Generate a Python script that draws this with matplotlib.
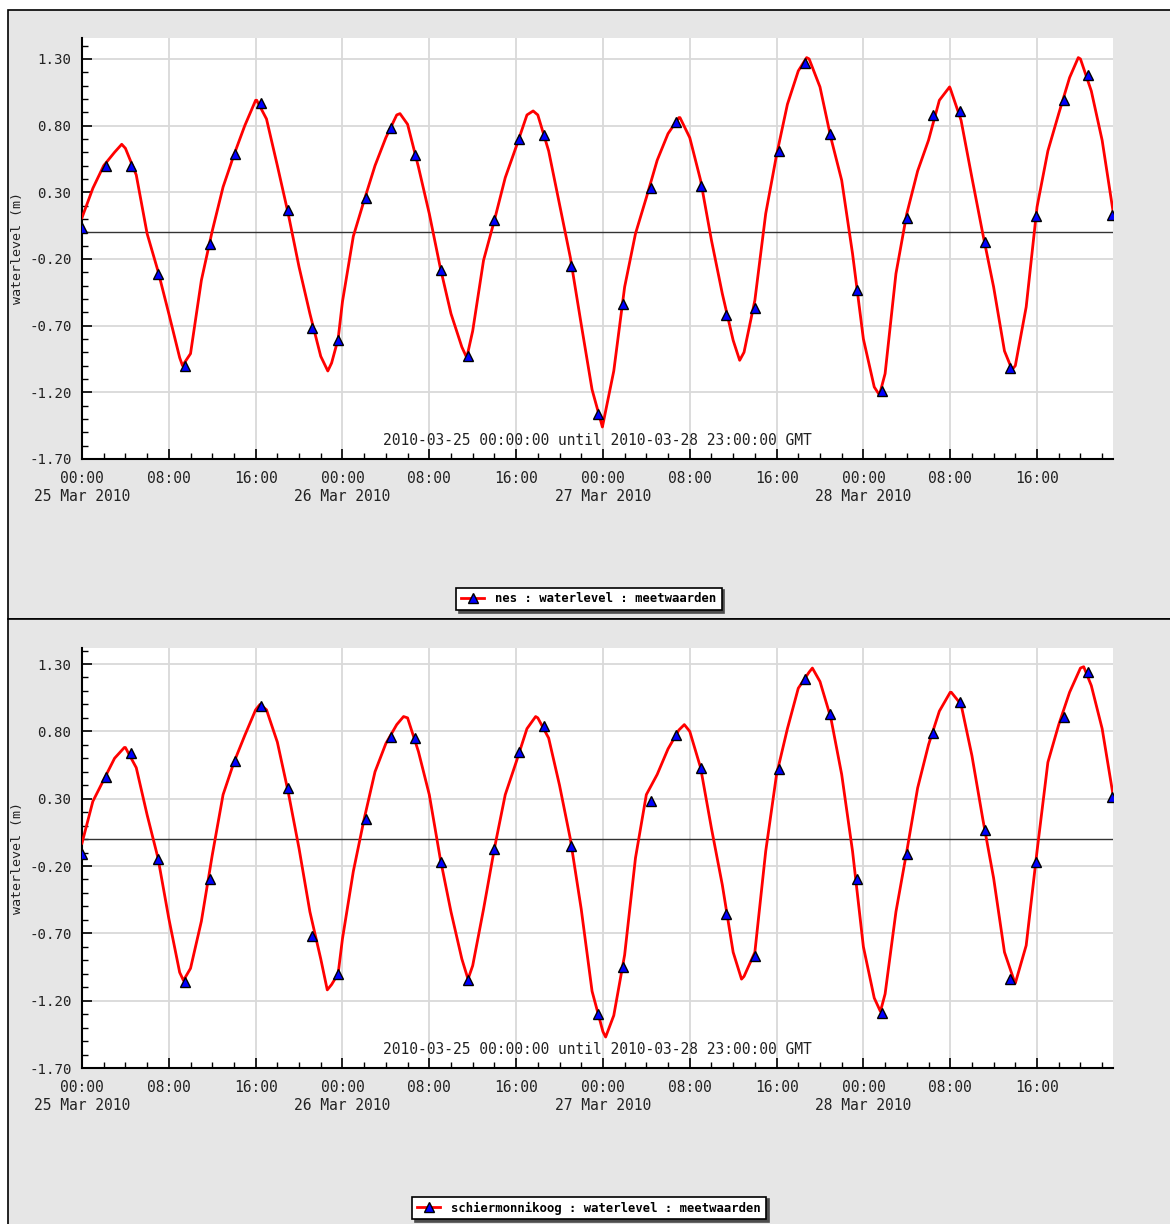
import pandas as pd
import numpy as np
import matplotlib
matplotlib.use('Agg')
import matplotlib.pyplot as plt
import matplotlib.dates as mdates
from matplotlib.patches import Rectangle
from matplotlib.lines import Line2D
from matplotlib.ticker import FixedLocator, MultipleLocator, FormatStrFormatter, FuncFormatter

plt.rcParams['axes.unicode_minus'] = False
MONO = 'DejaVu Sans Mono'

start = pd.Timestamp('2010-03-25 00:00')
end = pd.Timestamp('2010-03-28 23:00')
subtitle = '2010-03-25 00:00:00 until 2010-03-28 23:00:00 GMT'

# uurwaarden van de rode lijn (uur 0 .. 95)
hours = list(range(96))
nes_hourly = [0.11, 0.33, 0.50, 0.60, 0.63, 0.43, -0.01, -0.29, -0.61, -0.94,
              -0.91, -0.36, 0.01, 0.34, 0.58, 0.80, 0.99, 0.85, 0.50, 0.14,
              -0.26, -0.61, -0.93, -0.98, -0.52, -0.03, 0.24, 0.50, 0.71, 0.88,
              0.81, 0.49, 0.14, -0.26, -0.61, -0.86, -0.74, -0.21, 0.09, 0.41,
              0.64, 0.88, 0.88, 0.61, 0.21, -0.19, -0.69, -1.18, -1.44, -1.04,
              -0.41, -0.01, 0.26, 0.54, 0.74, 0.86, 0.71, 0.39, -0.06, -0.46,
              -0.81, -0.90, -0.51, 0.14, 0.58, 0.96, 1.21, 1.30, 1.09, 0.71,
              0.39, -0.16, -0.80, -1.16, -1.06, -0.31, 0.14, 0.46, 0.69, 0.99,
              1.08, 0.84, 0.41, -0.01, -0.41, -0.89, -1.00, -0.56, 0.19, 0.61,
              0.89, 1.16, 1.30, 1.06, 0.69, 0.16]
nes_extra_h = [3.66, 9.26, 16.1, 22.65, 23.6, 29.3, 35.45, 41.57, 47.95, 55.1,
               60.6, 66.77, 73.48, 79.94, 85.7, 91.8]
nes_extra_v = [0.66, -1.00, 0.99, -1.04, -0.80, 0.89, -0.94, 0.91, -1.46, 0.86,
               -0.96, 1.31, -1.22, 1.09, -1.03, 1.31]

# meetwaarden (driehoekjes): tijdstip in uren na 25 Mar 00:00
meas_hours = [0.0, 2.2, 4.52, 7.0, 9.45, 11.75, 14.1, 16.5, 18.95, 21.2,
              23.6, 26.15, 28.46, 30.7, 33.05, 35.6, 38.0, 40.3, 42.6, 45.1,
              47.5, 49.85, 52.46, 54.7, 57.0, 59.35, 62.0, 64.2, 66.6, 68.9,
              71.45, 73.7, 76.0, 78.4, 80.86, 83.2, 85.5, 87.9, 90.46, 92.7, 94.9]
nes_meas = [0.03, 0.50, 0.50, -0.31, -1.00, -0.09, 0.59, 0.97, 0.17, -0.72,
            -0.81, 0.26, 0.78, 0.58, -0.28, -0.93, 0.09, 0.70, 0.73, -0.25,
            -1.36, -0.54, 0.33, 0.83, 0.35, -0.62, -0.57, 0.61, 1.27, 0.74,
            -0.43, -1.19, 0.11, 0.88, 0.91, -0.07, -1.02, 0.12, 0.99, 1.18, 0.13]

sch_hourly = [-0.03, 0.28, 0.44, 0.60, 0.68, 0.53, 0.18, -0.14, -0.59, -0.99,
              -0.96, -0.61, -0.12, 0.33, 0.57, 0.77, 0.96, 0.96, 0.72, 0.35,
              -0.07, -0.54, -0.89, -1.08, -0.74, -0.24, 0.15, 0.50, 0.71, 0.85,
              0.90, 0.65, 0.33, -0.14, -0.54, -0.89, -0.94, -0.52, -0.07, 0.33,
              0.57, 0.82, 0.90, 0.75, 0.40, 0.00, -0.52, -1.13, -1.43, -1.31,
              -0.86, -0.14, 0.33, 0.48, 0.67, 0.81, 0.80, 0.53, 0.08, -0.34,
              -0.84, -1.02, -0.84, -0.09, 0.48, 0.82, 1.12, 1.24, 1.17, 0.90,
              0.48, -0.09, -0.80, -1.18, -1.15, -0.54, -0.09, 0.38, 0.70, 0.95,
              1.09, 1.00, 0.62, 0.15, -0.29, -0.84, -1.07, -0.79, -0.09, 0.57,
              0.85, 1.09, 1.27, 1.14, 0.82, 0.33]
sch_extra_h = [3.9, 9.35, 16.4, 22.6, 23.6, 29.63, 35.57, 41.8, 48.25, 55.5,
               60.77, 67.3, 73.57, 80.1, 85.97, 92.3]
sch_extra_v = [0.68, -1.05, 1.00, -1.12, -1.00, 0.91, -1.04, 0.91, -1.47, 0.85,
               -1.04, 1.27, -1.28, 1.09, -1.07, 1.28]
sch_meas = [-0.11, 0.46, 0.64, -0.15, -1.06, -0.30, 0.58, 0.99, 0.38, -0.72,
            -1.00, 0.15, 0.76, 0.75, -0.17, -1.05, -0.07, 0.65, 0.84, -0.05,
            -1.30, -0.95, 0.28, 0.77, 0.53, -0.56, -0.87, 0.52, 1.19, 0.93,
            -0.30, -1.29, -0.11, 0.79, 1.02, 0.07, -1.04, -0.17, 0.91, 1.24, 0.31]

yticks = [-1.70, -1.20, -0.70, -0.20, 0.30, 0.80, 1.30]
meas_times = start + pd.to_timedelta(meas_hours, unit='h')


def line_series(hourly, extra_h, extra_v):
    s = pd.concat([pd.Series(hourly, index=hours, dtype=float),
                   pd.Series(extra_v, index=extra_h, dtype=float)]).sort_index()
    s.index = start + pd.to_timedelta(s.index, unit='h')
    return s


def fmt_time(x, pos):
    d = mdates.num2date(x)
    if d.hour == 0:
        return d.strftime('%H:%M') + '\n' + d.strftime('%d %b %Y')
    return d.strftime('%H:%M')


W, H = 1170, 1224
fig = plt.figure(figsize=(W / 100, H / 100), dpi=100, facecolor='white')

# grijze panelen met zwarte rand
for y0, y1 in [(10, 619), (619, 1230)]:
    fig.add_artist(Rectangle((8 / W, 1 - y1 / H), 1.0, (y1 - y0) / H,
                             transform=fig.transFigure, facecolor='#e6e6e6',
                             edgecolor='black', lw=1.2, zorder=-5))

panels = [
    (nes_hourly, nes_extra_h, nes_extra_v, nes_meas, 'nes : waterlevel : meetwaarden',
     [82 / W, 1 - 459 / H, 1031 / W, 421 / H], 1.457, 599),
    (sch_hourly, sch_extra_h, sch_extra_v, sch_meas, 'schiermonnikoog : waterlevel : meetwaarden',
     [82 / W, 1 - 1068 / H, 1031 / W, 420 / H], 1.419, 1208),
]

for hourly, extra_h, extra_v, meas, name, rect, ytop, leg_y in panels:
    ax = fig.add_axes(rect)
    ax.set_facecolor('white')
    s = line_series(hourly, extra_h, extra_v)
    ax.axhline(0, color='#333333', lw=1.0, zorder=2)
    ax.plot(s.index, s.values, color='red', lw=2.0, zorder=3)
    ax.plot(meas_times, meas, ls='none', marker='^', ms=7, mfc='blue',
            mec='black', mew=1.0, zorder=4)

    ax.set_xlim(start, end)
    ax.set_ylim(-1.70, ytop)
    ax.yaxis.set_major_locator(FixedLocator(yticks))
    ax.yaxis.set_minor_locator(MultipleLocator(0.1))
    ax.yaxis.set_major_formatter(FormatStrFormatter('%.2f'))
    ax.xaxis.set_major_locator(mdates.HourLocator(byhour=[0, 8, 16]))
    ax.xaxis.set_minor_locator(mdates.HourLocator(byhour=range(0, 24, 2)))
    ax.xaxis.set_major_formatter(FuncFormatter(fmt_time))

    ax.grid(True, which='major', color='#d9d9d9', lw=1.3)
    ax.set_axisbelow(True)
    for side in ['top', 'right']:
        ax.spines[side].set_visible(False)
    for side in ['left', 'bottom']:
        ax.spines[side].set_linewidth(1.5)
    ax.tick_params(which='major', direction='in', length=7, width=1.2,
                   labelsize=10.5, labelcolor='#222222')
    ax.tick_params(which='minor', direction='in', length=4, width=1.0)
    ax.tick_params(axis='y', pad=7.5, labelsize=10.2)
    ax.tick_params(axis='x', pad=8.5)
    for lab in ax.get_xticklabels() + ax.get_yticklabels():
        lab.set_family(MONO)
    for lab in ax.get_xticklabels():
        lab.set_linespacing(1.3)

    ax.set_ylabel('waterlevel (m)', family=MONO, fontsize=9.6, color='#222222')
    ax.yaxis.set_label_coords(-0.056, 0.5)
    ax.text(0.5, 0.045, subtitle, transform=ax.transAxes, ha='center',
            va='center', family=MONO, fontsize=10.5, color='#222222', zorder=5)

    handle = Line2D([], [], color='red', lw=2.0, marker='^', ms=7, mfc='blue',
                    mec='black', mew=1.0)
    leg = fig.legend([handle], [name], loc='center',
                     bbox_to_anchor=(589 / W, 1 - leg_y / H),
                     fancybox=False, framealpha=1, edgecolor='black',
                     shadow={'color': '#4d4d4d', 'alpha': 1},
                     prop={'family': MONO, 'weight': 'bold', 'size': 8.8},
                     handlelength=1.9, handletextpad=0.9, borderpad=0.4,
                     borderaxespad=0)
    leg.get_frame().set_linewidth(1.2)

fig.savefig('out.png', dpi=100, facecolor=fig.get_facecolor())
